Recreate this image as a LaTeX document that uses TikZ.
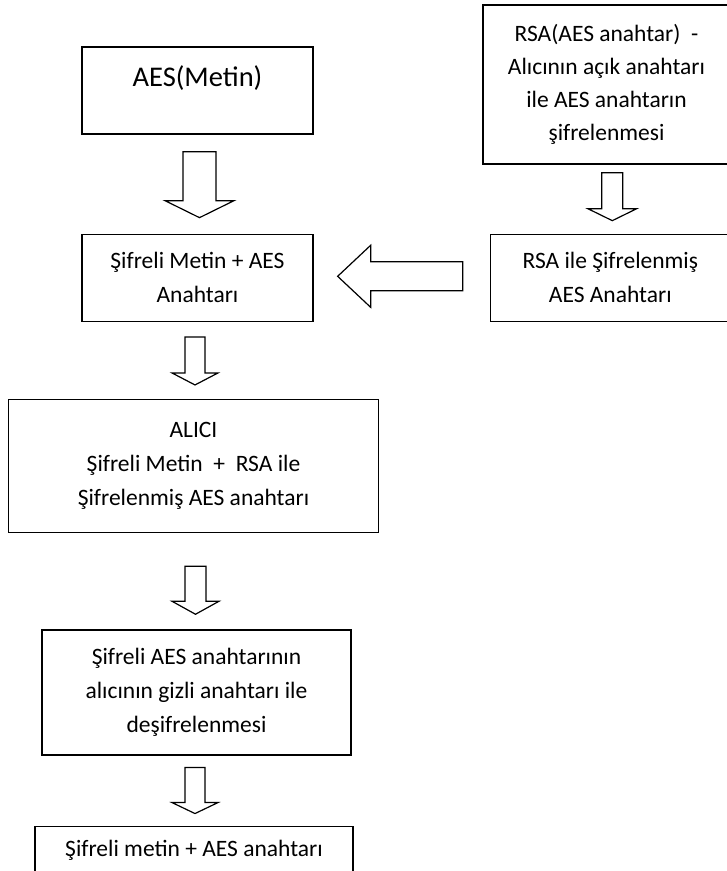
\documentclass[tikz,border=0pt]{standalone}
\usepackage{fontspec}
\setmainfont{Carlito}
\usetikzlibrary{calc,positioning}

\begin{document}
\begin{tikzpicture}[
        x=1pt, y=1pt,
        font=\fontsize{23.5}{34}\selectfont,
        box/.style={draw, line width=1.3pt, align=center, inner sep=0pt},
        hollow/.style={draw, line width=1.2pt, fill=white},
        fat/.style n args={3}{to path={
            let \p1=(\tikztostart), \p2=(\tikztotarget),
                \n1={atan2(\y2-\y1,\x2-\x1)}, \n2={veclen(\x2-\x1,\y2-\y1)} in
            ([shift={(\p1)},rotate=\n1]0,#1)
            -- ([shift={(\p1)},rotate=\n1]\n2-#3,#1)
            -- ([shift={(\p1)},rotate=\n1]\n2-#3,#2)
            -- (\p2)
            -- ([shift={(\p1)},rotate=\n1]\n2-#3,-#2)
            -- ([shift={(\p1)},rotate=\n1]\n2-#3,-#1)
            -- ([shift={(\p1)},rotate=\n1]0,-#1) -- cycle}}
    ]
    \useasboundingbox (0,0) rectangle (727,-871);

    % Sender side
    \node[box, minimum width=231pt, minimum height=87pt, font=\fontsize{28.5}{34}\selectfont,
          text height=20pt, text depth=28pt, inner ysep=19.5pt] (aes) at (197.5,-90.5) {AES(Metin)};
    \node[box, minimum width=247pt, minimum height=159pt, font=\fontsize{23.5}{33}\selectfont] (rsa) at (606.5,-84.5)
        {RSA(AES anahtar)\ \ -\\Alıcının açık anahtarı\\ile AES anahtarın\\şifrelenmesi};
    \node[box, minimum width=231pt, minimum height=87pt, below=99pt of aes] (cipher) {Şifreli Metin + AES\\Anahtarı};
    \node[box, minimum width=240pt, minimum height=87pt, right=176pt of cipher] (rsaenc) {RSA ile Şifrelenmiş\\AES Anahtarı};

    % Receiver side
    \node[box, minimum width=370pt, minimum height=133pt, below=77pt of cipher, xshift=-4pt] (alici)
        {ALICI\\Şifreli Metin\ \ +\ \ RSA ile\\Şifrelenmiş AES anahtarı};
    \node[box, minimum width=309pt, minimum height=125pt, below=96pt of alici, xshift=3pt] (decrypt)
        {Şifreli AES anahtarının\\alıcının gizli anahtarı ile\\deşifrelenmesi};
    \node[box, minimum width=318pt, minimum height=49pt, below=70pt of decrypt, xshift=-2.5pt] (final)
        {Şifreli metin + AES anahtarı};

    % Arrow ends
    \coordinate[below=17pt of aes, xshift=2pt] (a1);
    \coordinate[above=16pt of cipher, xshift=2pt] (a2);
    \coordinate (b1) at ($(rsa.south -| rsaenc.north)+(2,-8)$);
    \coordinate (b2) at ($(rsaenc.north)+(2,13)$);
    \coordinate (c1) at ($(rsaenc.west)+(-27,1.5)$);
    \coordinate (c2) at ($(cipher.east)+(24,1.5)$);
    \coordinate (d1) at ($(cipher.south -| alici.north)+(1.5,-15)$);
    \coordinate (d2) at ($(alici.north)+(1.5,14)$);
    \coordinate (e1) at ($(alici.south)+(2,-33)$);
    \coordinate (e2) at ($(decrypt.north)+(-1,15)$);
    \coordinate (f1) at ($(decrypt.south)+(-1.5,-12)$);
    \coordinate (f2) at ($(final.north)+(1,12)$);

    % Block arrows
    \draw[hollow, fat={16.5}{34.5}{17}] (a1) to (a2);
    \draw[hollow, fat={10.5}{24.5}{12}] (b1) to (b2);
    \draw[hollow, fat={14.5}{31}{33}] (c1) to (c2);
    \draw[hollow, fat={10}{23}{12}] (d1) to (d2);
    \draw[hollow, fat={10.5}{23.5}{13}] (e1) to (e2);
    \draw[hollow, fat={10}{23}{11}] (f1) to (f2);

\end{tikzpicture}
\end{document}
